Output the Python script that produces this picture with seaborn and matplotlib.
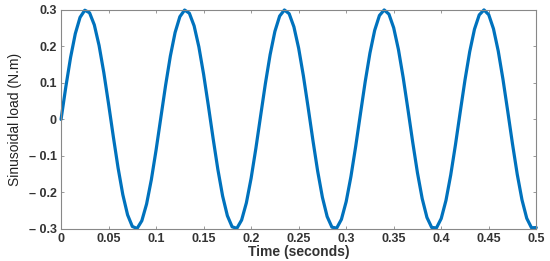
import numpy as np
import pandas as pd
import matplotlib
matplotlib.use("Agg")
import matplotlib.pyplot as plt
import seaborn as sns

# Time samples (seconds) and the sinusoidal load (N.m)
time_s = [round(0.005 * k, 3) for k in range(101)]
load_nm = [
    0.0000, 0.0887, 0.1694, 0.2350, 0.2796, 0.2992, 0.2921, 0.2590, 0.2026, 0.1282,
    0.0423, -0.0473, -0.1328, -0.2063, -0.2615, -0.2933, -0.2989, -0.2777, -0.2318, -0.1652,
    -0.0838, 0.0050, 0.0934, 0.1735, 0.2381, 0.2814, 0.2996, 0.2910, 0.2564, 0.1989,
    0.1236, 0.0374, -0.0523, -0.1372, -0.2100, -0.2639, -0.2943, -0.2984, -0.2758, -0.2286,
    -0.1610, -0.0791, 0.0101, 0.0982, 0.1776, 0.2411, 0.2831, 0.2998, 0.2897, 0.2537,
    0.1951, 0.1190, 0.0323, -0.0572, -0.1417, -0.2135, -0.2663, -0.2952, -0.2979, -0.2739,
    -0.2253, -0.1567, -0.0742, 0.0151, 0.1030, 0.1816, 0.2441, 0.2847, 0.2999, 0.2884,
    0.2510, 0.1913, 0.1144, 0.0273, -0.0622, -0.1462, -0.2171, -0.2687, -0.2961, -0.2973,
    -0.2717, -0.2220, -0.1523, -0.0693, 0.0202, 0.1077, 0.1857, 0.2471, 0.2863, 0.3000,
    0.2869, 0.2482, 0.1874, 0.1096, 0.0223, -0.0671, -0.1505, -0.2205, -0.2710, -0.2969,
    -0.2964,
]
x_ticks = [0, 0.05, 0.1, 0.15, 0.2, 0.25, 0.3, 0.35, 0.4, 0.45, 0.5]
x_tick_labels = ["0", "0.05", "0.1", "0.15", "0.2", "0.25", "0.3", "0.35", "0.4", "0.45", "0.5"]
y_ticks = [-0.3, -0.2, -0.1, 0, 0.1, 0.2, 0.3]
y_tick_labels = ["\u2013 0.3", "\u2013 0.2", "\u2013 0.1", "0", "0.1", "0.2", "0.3"]

sns.set_theme(style="white")
plt.rcParams["font.family"] = ["Liberation Sans", "DejaVu Sans"]

df = pd.DataFrame({"t": time_s, "load": load_nm})

fig = plt.figure(figsize=(5.5, 2.61), dpi=100)
ax = fig.add_axes([0.111, 0.123, 0.864, 0.839])
sns.lineplot(data=df, x="t", y="load", ax=ax, color="#0072BD", linewidth=2.3)
ax.lines[0].set_solid_joinstyle("round")
ax.lines[0].set_clip_on(False)

ax.set_xlim(0, 0.5)
ax.set_ylim(-0.3, 0.3)
ax.set_xticks(x_ticks)
ax.set_xticklabels(x_tick_labels)
ax.set_yticks(y_ticks)
ax.set_yticklabels(y_tick_labels)

tick_col = "#333333"
for lab in ax.get_xticklabels() + ax.get_yticklabels():
    lab.set_fontweight("bold")
    lab.set_fontsize(9)
    lab.set_color(tick_col)

ax.tick_params(axis="both", which="both", direction="in", length=2.5, width=0.6,
               color="#888888", top=True, right=True, bottom=True, left=True, pad=3)
for s in ax.spines.values():
    s.set_visible(True)
    s.set_color("#888888")
    s.set_linewidth(0.8)

ax.set_xlabel("Time (seconds)", fontsize=10, fontweight="bold", color="#333333", labelpad=0)
ax.set_ylabel("Sinusoidal load (N.m)", fontsize=10,
              family=["Liberation Sans Narrow", "Liberation Sans", "DejaVu Sans"],
              color="#222222", labelpad=5)

fig.savefig("out.png", dpi=100)
